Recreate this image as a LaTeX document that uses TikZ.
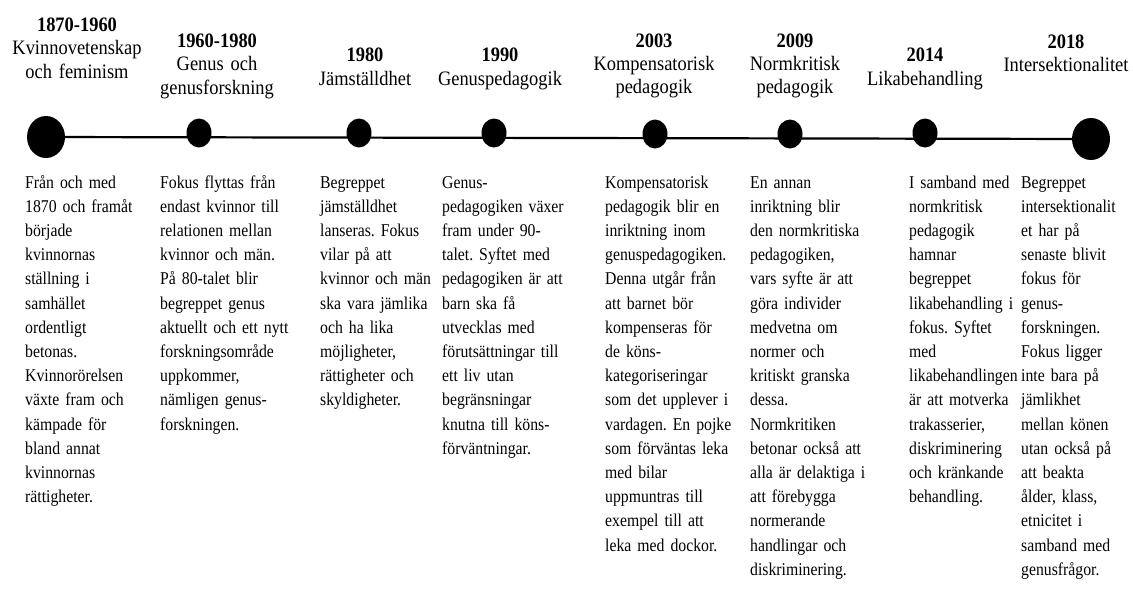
\documentclass[tikz,border=0pt]{standalone}
\usepackage{fontspec}
\setmainfont{Liberation Serif}[FakeStretch=0.9]
\newfontfamily\bodyfont{Liberation Serif}[FakeStretch=0.875]
\usetikzlibrary{positioning,shapes.geometric}
\frenchspacing
\tikzset{
  bigdot/.style={fill=black, ellipse, inner sep=0pt, minimum width=38pt, minimum height=42pt},
  smalldot/.style={fill=black, ellipse, inner sep=0pt, minimum width=25pt, minimum height=29pt},
  periodhead/.style={anchor=base, align=center, text width=150pt, inner sep=0pt, font=\fontsize{20.5}{23.3}\selectfont},
  eventtext/.style={anchor=base west, align=left, text width=140pt, inner sep=0pt, font=\bodyfont\fontsize{18}{24.2}\selectfont},
  timeline/.style={line width=2.2pt}
}

\begin{document}
\begin{tikzpicture}[x=1pt, y=-1pt]
  \useasboundingbox (0,0) rectangle (1133,590);

  % dots on the time line
  \node [bigdot] (d1) at (46,137) {};
  \node [smalldot] (d2) at (199,133) {};
  \node [smalldot] (d3) at (359,133) {};
  \node [smalldot] (d4) at (494,133) {};
  \node [smalldot] (d5) at (655,134) {};
  \node [smalldot] (d6) at (790,134) {};
  \node [smalldot] (d7) at (925,133) {};
  \node [bigdot] (d8) at (1091,139) {};
  \draw [timeline] (d1.center) -- (d8.center);

  % periods
  \node [periodhead] (h1) at (77,31.5) {\textbf{1870-1960}\\Kvinnovetenskap\\och feminism};
  \node [periodhead] (h2) at (217,47.5) {\textbf{1960-1980}\\Genus och\\genusforskning};
  \node [periodhead] (h3) at (365,61.7) {\textbf{1980}\\Jämställdhet};
  \node [periodhead] (h4) at (500,61.7) {\textbf{1990}\\Genuspedagogik};
  \node [periodhead] (h5) at (654,47) {\textbf{2003}\\Kompensatorisk\\pedagogik};
  \node [periodhead] (h6) at (795,47) {\textbf{2009}\\Normkritisk\\pedagogik};
  \node [periodhead] (h7) at (925,61.7) {\textbf{2014}\\Likabehandling};
  \node [periodhead] (h8) at (1066,48) {\textbf{2018}\\Intersektionalitet};

  % texts under the line
  \node [eventtext] (t1) at (25,188) {Från och med\\1870 och framåt\\började\\kvinnornas\\ställning i\\samhället\\ordentligt\\betonas.\\Kvinnorörelsen\\växte fram och\\kämpade för\\bland annat\\kvinnornas\\rättigheter.};
  \node [eventtext] (t2) at (160,188) {Fokus flyttas från\\endast kvinnor till\\relationen mellan\\kvinnor och män.\\På 80-talet blir\\begreppet genus\\aktuellt och ett nytt\\forskningsområde\\uppkommer,\\nämligen genus-\\forskningen.};
  \node [eventtext] (t3) at (320,188) {Begreppet\\jämställdhet\\lanseras. Fokus\\vilar på att\\kvinnor och män\\ska vara jämlika\\och ha lika\\möjligheter,\\rättigheter och\\skyldigheter.};
  \node [eventtext] (t4) at (442,188) {Genus-\\pedagogiken växer\\fram under 90-\\talet. Syftet med\\pedagogiken är att\\barn ska få\\utvecklas med\\förutsättningar till\\ett liv utan\\begränsningar\\knutna till köns-\\förväntningar.};
  \node [eventtext] (t5) at (605,188) {Kompensatorisk\\pedagogik blir en\\inriktning inom\\genuspedagogiken.\\Denna utgår från\\att barnet bör\\kompenseras för\\de köns-\\kategoriseringar\\som det upplever i\\vardagen. En pojke\\som förväntas leka\\med bilar\\uppmuntras till\\exempel till att\\leka med dockor.};
  \node [eventtext] (t6) at (750,188) {En annan\\inriktning blir\\den normkritiska\\pedagogiken,\\vars syfte är att\\göra individer\\medvetna om\\normer och\\kritiskt granska\\dessa.\\Normkritiken\\betonar också att\\alla är delaktiga i\\att förebygga\\normerande\\handlingar och\\diskriminering.};
  \node [eventtext] (t7) at (909,188) {I samband med\\normkritisk\\pedagogik\\hamnar\\begreppet\\likabehandling i\\fokus. Syftet\\med\\likabehandlingen\\är att motverka\\trakasserier,\\diskriminering\\och kränkande\\behandling.};
  \node [eventtext, text width=110pt] (t8) at (1021,188) {Begreppet\\intersektionalit\\et har på\\senaste blivit\\fokus för\\genus-\\forskningen.\\Fokus ligger\\inte bara på\\jämlikhet\\mellan könen\\utan också på\\att beakta\\ålder, klass,\\etnicitet i\\samband med\\genusfrågor.};
\end{tikzpicture}
\end{document}
